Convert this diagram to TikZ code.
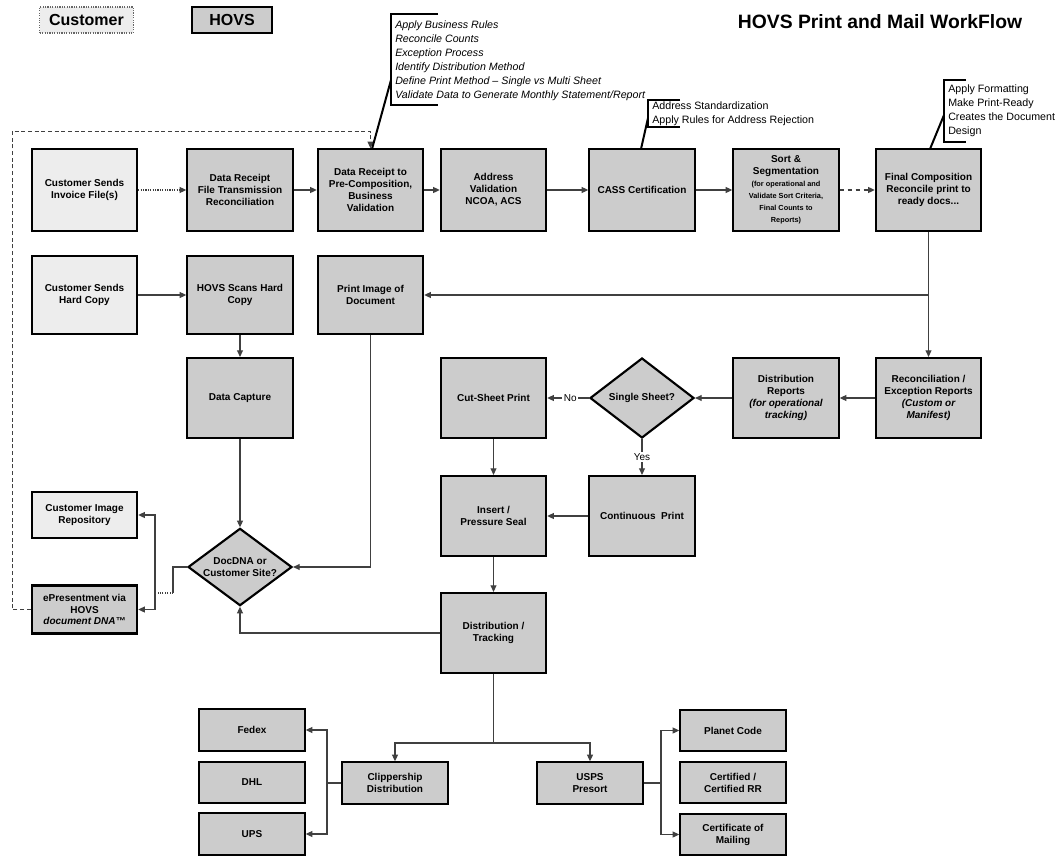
\documentclass[tikz,border=0pt]{standalone}
\usepackage{fontspec}
\setmainfont{Liberation Sans}
\usetikzlibrary{arrows.meta,shapes.geometric}
\definecolor{hovfill}{gray}{0.80}
\definecolor{custfill}{gray}{0.93}
\definecolor{lnc}{gray}{0.25}
\begin{document}
\begin{tikzpicture}[x=0.75pt,y=-0.75pt,
  box/.style={draw, line width=1.6pt, fill=hovfill, align=center,
    font=\bfseries\fontsize{7.5}{9}\selectfont, inner sep=1pt,
    minimum width=79pt, minimum height=61pt},
  cbox/.style={box, fill=custfill},
  rowtwo/.style={minimum height=59pt},
  midbox/.style={minimum height=60pt},
  smallbox/.style={minimum height=31pt},
  dia/.style={diamond, aspect=1.35, draw, line width=1.6pt, fill=hovfill, align=center,
    font=\bfseries\fontsize{7.5}{9}\selectfont, inner sep=0pt},
  ln/.style={draw=lnc, line width=0.8pt},
  arr/.style={ln, -{Triangle[length=5pt,width=4.5pt]}},
  lbl/.style={fill=white, inner sep=1pt, font=\fontsize{7.5}{9}\selectfont},
  bracket/.style={draw=black, line width=1.3pt},
  callout/.style={draw=black, line width=1.5pt},
  anntext/.style={anchor=north west, align=left, inner sep=0pt, font=\fontsize{8}{10.4}\selectfont}
]
\useasboundingbox[fill=white] (0,0) rectangle (1062,856);

% legend and title
\node[draw=black!60, densely dotted, line width=0.8pt, fill=custfill, minimum width=70pt, minimum height=19.5pt,
  font=\bfseries\fontsize{12}{14}\selectfont] (legc) at (86.5,20) {Customer};
\node[draw=black, line width=1pt, fill=hovfill, minimum width=60pt, minimum height=19.5pt,
  font=\bfseries\fontsize{12}{14}\selectfont] (legh) at (232,20) {HOVS};
\node[font=\bfseries\fontsize{14.5}{16}\selectfont] (title) at (880,22) {HOVS Print and Mail WorkFlow};

% row 1
\node[cbox] (b1) at (84.5,190) {Customer Sends\\Invoice File(s)};
\node[box] (b2) at (240,190) {Data Receipt\\File Transmission\\Reconciliation};
\node[box] (b3) at (370.5,190) {Data Receipt to\\Pre-Composition,\\Business\\Validation};
\node[box] (b4) at (493.5,190) {Address\\Validation\\NCOA, ACS};
\node[box] (b5) at (642,190) {CASS Certification};
\node[box] (b6) at (786,190) {Sort \&\\Segmentation\\{\fontsize{5.5}{6.5}\selectfont (for operational and}\\{\fontsize{5.5}{6.5}\selectfont Validate Sort Criteria,}\\{\fontsize{5.5}{6.5}\selectfont Final Counts to}\\{\fontsize{5.5}{6.5}\selectfont Reports)}};
\node[box] (b7) at (928.5,190) {Final Composition\\Reconcile print to\\ready docs...};

% row 2
\node[cbox, rowtwo] (chc) at (84.5,295) {Customer Sends\\Hard Copy};
\node[box, rowtwo] (hsc) at (240,295) {HOVS Scans Hard\\Copy};
\node[box, rowtwo] (pi) at (370.5,295) {Print Image of\\Document};

% middle
\node[box, midbox] (dc) at (240,398) {Data Capture};
\node[box, midbox] (cut) at (493.5,398) {Cut-Sheet Print};
\node[dia, minimum width=78pt, minimum height=60pt] (single) at (642,398) {Single Sheet?};
\node[box, midbox] (distrep) at (786,398) {Distribution\\Reports\\{\itshape (for operational}\\{\itshape tracking)}};
\node[box, midbox] (recon) at (928.5,398) {Reconciliation /\\Exception Reports\\{\itshape (Custom or}\\{\itshape Manifest)}};
\node[box, midbox] (insert) at (493.5,516) {Insert /\\Pressure Seal};
\node[box, midbox] (cont) at (642,516) {Continuous\ \ Print};
\node[box, midbox] (dt) at (493.5,633) {Distribution /\\Tracking};
\node[dia, minimum width=78pt, minimum height=58pt] (dna) at (240,567) {DocDNA or\\Customer Site?};
\node[cbox, minimum height=35pt] (cir) at (84.5,515) {Customer Image\\Repository};
\node[box, minimum height=36pt, font=\bfseries\fontsize{7.5}{8.6}\selectfont] (epr) at (84.5,609.5) {ePresentment via\\HOVS\\{\itshape document DNA™}};

% bottom
\node[box, smallbox] (fedex) at (252,730) {Fedex};
\node[box, smallbox] (dhl) at (252,782.5) {DHL};
\node[box, smallbox] (ups) at (252,834) {UPS};
\node[box, smallbox] (clip) at (395,783) {Clippership\\Distribution};
\node[box, smallbox] (usps) at (590,783) {USPS\\Presort};
\node[box, smallbox] (planet) at (733,730.5) {Planet Code};
\node[box, smallbox] (certrr) at (733,782.5) {Certified /\\Certified RR};
\node[box, smallbox] (certmail) at (733,834.5) {Certificate of\\Mailing};

% row 1 flow
\draw[arr, densely dotted] (b1.east) -- (b2.west);
\draw[arr] (b2.east) -- (b3.west);
\draw[arr] (b3.east) -- (b4.west);
\draw[arr] (b4.east) -- (b5.west);
\draw[arr] (b5.east) -- (b6.west);
\draw[arr, dashed] (b6.east) -- (b7.west);
\draw[arr] (b7.south) -- (recon.north);
\coordinate (j1) at (b7.south |- pi.east);
\draw[arr] (j1) -- (pi.east);

% row 2 flow
\draw[arr] (chc.east) -- (hsc.west);
\draw[arr] (hsc.south) -- (dc.north);
\draw[arr] (dc.south) -- (dna.north);
\draw[arr] (pi.south) |- (dna.east);

% middle flow
\draw[arr] (recon.west) -- (distrep.east);
\draw[arr] (distrep.west) -- (single.east);
\draw[arr] (single.west) -- node[lbl, pos=0.45]{No} (cut.east);
\draw[arr] (single.south) -- node[lbl, pos=0.5]{Yes} (cont.north);
\draw[arr] (cut.south) -- (insert.north);
\draw[arr] (cont.west) -- (insert.east);
\draw[arr] (insert.south) -- (dt.north);
\draw[arr] (dt.west) -| (dna.south);

% DocDNA outputs
\coordinate (k1) at (173,567);
\coordinate (k2) at (173,593);
\coordinate (k3) at (155,593);
\draw[ln] (dna.west) -- (k1) -- (k2);
\draw[ln, densely dotted] (k2) -- (k3);
\draw[arr] (k3) |- (cir.east);
\draw[arr] (k3) |- (epr.east);

% feedback loop
\coordinate (f1) at (12,609.5);
\coordinate (f2) at (12,131);
\draw[arr, densely dashed, line width=0.7pt] (epr.west) -- (f1) -- (f2) -- (b3.north |- f2) -- (b3.north);

% distribution
\coordinate (h) at (493.5,743);
\draw[arr] (dt.south) -- (h) -| (clip.north);
\draw[arr] (h) -| (usps.north);
\coordinate (c1) at (327,783);
\draw[ln] (clip.west) -- (c1);
\draw[arr] (c1) |- (fedex.east);
\draw[arr] (c1) |- (ups.east);
\coordinate (u1) at (661,783);
\draw[ln] (usps.east) -- (u1);
\draw[arr] (u1) |- (planet.west);
\draw[arr] (u1) |- (certmail.west);

% annotations
\draw[bracket] (438,14) -- (391,14) -- (391,105) -- (438,105);
\node[anntext, font=\itshape\fontsize{8}{10.4}\selectfont] (ann1) at (395,21) {Apply Business Rules\\Reconcile Counts\\Exception Process\\Identify Distribution Method\\Define Print Method -- Single vs Multi Sheet\\Validate Data to Generate Monthly Statement/Report};
\coordinate (a1) at (391,80);
\draw[callout] (a1) -- (372,149);

\draw[bracket] (680,100) -- (648,100) -- (648,127) -- (680,127);
\node[anntext] (ann2) at (652,102) {Address Standardization\\Apply Rules for Address Rejection};
\coordinate (a2) at (648,118);
\draw[callout] (a2) -- (641,149);

\draw[bracket] (966,80) -- (944,80) -- (944,142) -- (966,142);
\node[anntext] (ann3) at (948,85) {Apply Formatting\\Make Print-Ready\\Creates the Document\\Design};
\coordinate (a3) at (944,115);
\draw[callout] (a3) -- (930,149);
\end{tikzpicture}
\end{document}
